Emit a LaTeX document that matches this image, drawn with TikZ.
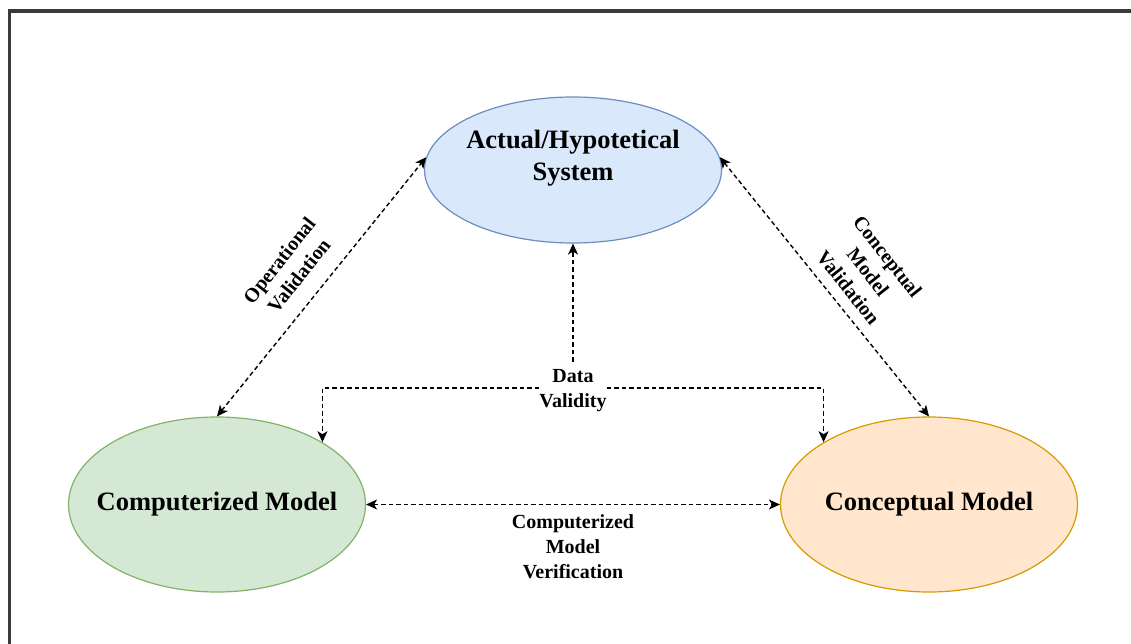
\documentclass[tikz,border=0pt]{standalone}
\usepackage{fontspec}
\setmainfont{Liberation Serif}
\usetikzlibrary{shapes.geometric,arrows.meta,calc}

\definecolor{sysfill}{HTML}{DAE8FC}
\definecolor{sysline}{HTML}{6C8EBF}
\definecolor{compfill}{HTML}{D5E8D4}
\definecolor{compline}{HTML}{82B366}
\definecolor{concfill}{HTML}{FFE6CC}
\definecolor{concline}{HTML}{D79B00}
\definecolor{framegray}{HTML}{3A3A3A}

\tikzset{
  >={Stealth[length=11pt,width=10pt,inset=3pt]},
  model/.style={ellipse, draw, line width=1.2pt, minimum width=297pt,
                minimum height=146pt, inner sep=0pt},
  bigtext/.style={font=\fontsize{26.5}{32}\selectfont\bfseries, align=center, inner sep=0pt},
  smalltext/.style={font=\fontsize{20}{25}\selectfont\bfseries, align=center, inner sep=1pt},
  link/.style={line width=1.4pt, dash pattern=on 4.5pt off 3pt, <->},
  onelink/.style={line width=1.4pt, dash pattern=on 4.5pt off 3pt, ->}
}

\begin{document}
\begin{tikzpicture}[x=1pt, y=-1pt]
  \useasboundingbox (0,0) rectangle (1131,644);

  % open frame along the top and left edges
  \draw[framegray, line width=3.5pt] (9.5,650) -- (9.5,11) -- (1140,11);

  % the three models
  \node[model, fill=sysfill, draw=sysline, minimum height=146pt] (sys) at (573,170) {};
  \node[bigtext] (systxt) at (573,158) {Actual/Hypotetical\\System};

  \node[model, fill=compfill, draw=compline, minimum height=175pt] (comp) at (217,504.5) {};
  \node[bigtext] (comptxt) at (217,504) {Computerized Model};

  \node[model, fill=concfill, draw=concline, minimum height=175pt] (conc) at (929,504.5) {};
  \node[bigtext] (conctxt) at (929,504) {Conceptual Model};

  % operational validation
  \draw[link] (comp.north) -- (sys.175);
  \node[smalltext, rotate=51.7] (opval) at (289,268) {Operational\\Validation};

  % conceptual model validation
  \draw[link] (sys.5) -- (conc.north);
  \node[smalltext, rotate=-51.7] (cmval) at (868,272) {Conceptual\\Model\\Validation};

  % data validity: label sits on the split of the branch line
  \node[smalltext, fill=white, inner sep=0pt] (dv) at (573,391) {Data\\Validity};
  \coordinate (dvl) at ($(dv.west)+(0,-3)$);
  \coordinate (dvr) at ($(dv.east)+(0,-3)$);
  \draw[onelink] ($(dv.north)+(0,-8)$) coordinate (dvtop) -- (sys.south);
  \draw[onelink] (dvl) -| (comp.north east);
  \draw[onelink] (dvr) -| (conc.north west);

  % computerized model verification
  \draw[link] (comp.east) -- (conc.west);
  \node[smalltext] (cmv) at (573,547) {Computerized\\Model\\Verification};
\end{tikzpicture}
\end{document}
